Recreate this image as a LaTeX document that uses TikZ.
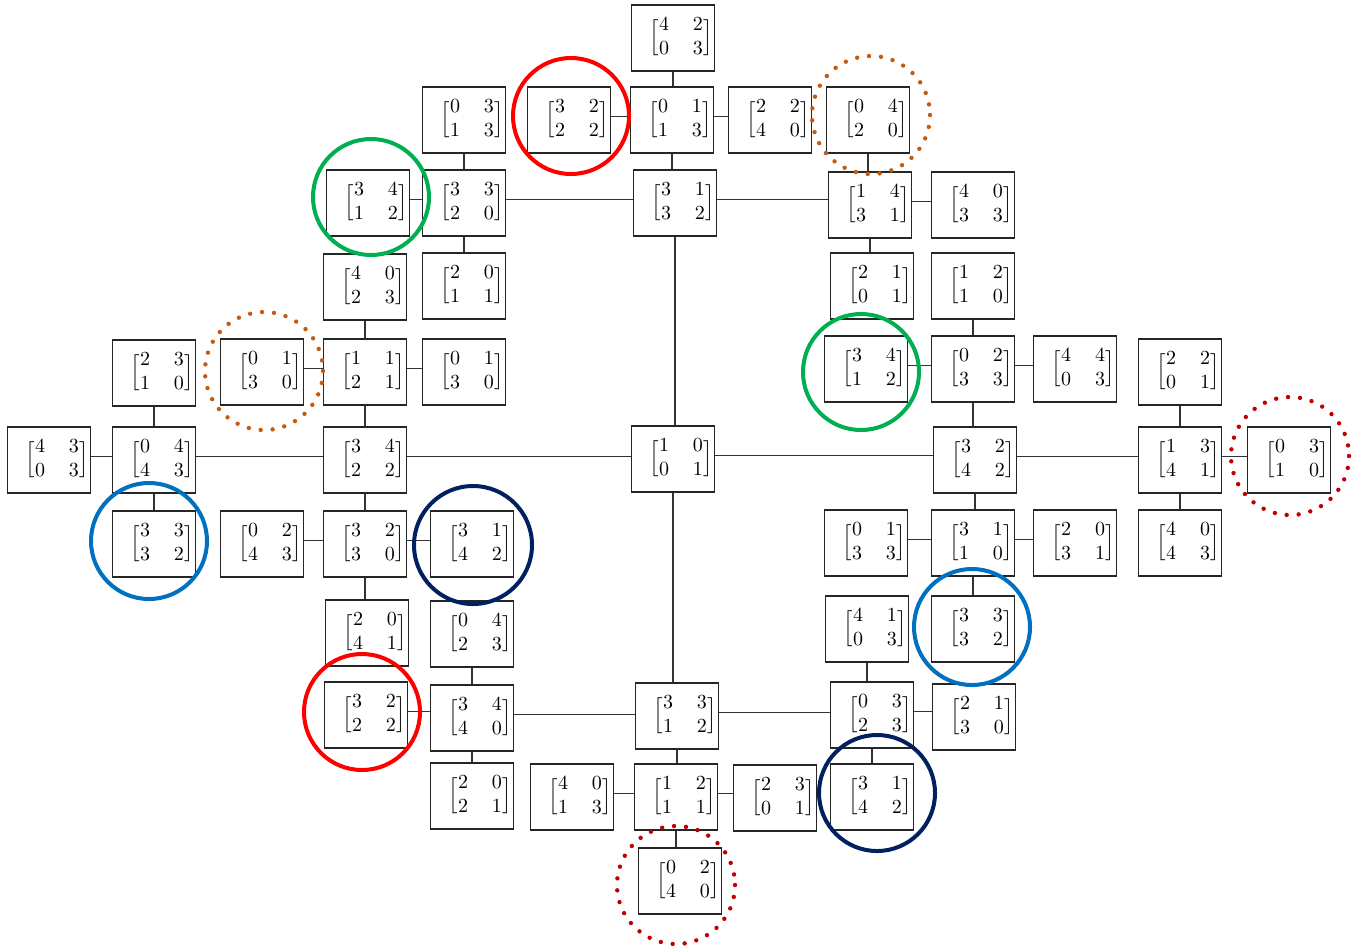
\documentclass[tikz,border=0pt]{standalone}
\newcommand\mx[4]{\hspace{8pt}$\Big[\begin{array}{@{}c@{\hspace{12pt}}c@{}}#1&#2\\#3&#4\end{array}\Big]$}
\definecolor{cred}{HTML}{FF0000}
\definecolor{cgreen}{HTML}{00B050}
\definecolor{cblue}{HTML}{0070C0}
\definecolor{cnavy}{HTML}{002060}
\definecolor{cbrown}{HTML}{C55A11}
\definecolor{cdred}{HTML}{C00000}
\tikzset{
  mat/.style={draw=black!85, line width=0.95pt, minimum width=41.5pt, minimum height=33pt, inner sep=0pt},
  conn/.style={draw=black!80, line width=0.9pt},
  ring/.style={line width=2pt},
  dotring/.style={line width=2.2pt, dash pattern=on 0pt off 6pt, line cap=round},
}
\begin{document}
\begin{tikzpicture}[x=0.5pt,y=-0.5pt]
\fill[white] (0,0) rectangle (1363,949);
\useasboundingbox (0,0) rectangle (1363,949);
% central column
\node[mat] (n1) at (673,38) {\mx4203};
\node[mat] (n2) at (672,120) {\mx0113};
\node[mat] (n3) at (675,203) {\mx3132};
\node[mat] (c)  at (673,459) {\mx1001};
\node[mat] (s3) at (677,716) {\mx3312};
\node[mat] (s2) at (676,797) {\mx1211};
\node[mat] (s1) at (680,881) {\mx0240};
% top row
\node[mat] (t1) at (464,120) {\mx0313};
\node[mat] (t2) at (569,120) {\mx3222};
\node[mat] (t3) at (770,120) {\mx2240};
\node[mat] (t4) at (868,120) {\mx0420};
% row 203
\node[mat] (u1) at (368,203) {\mx3412};
\node[mat] (u2) at (464,203) {\mx3320};
\node[mat] (u3) at (870,205) {\mx1431};
\node[mat] (u4) at (973,205) {\mx4033};
% row 286
\node[mat] (v1) at (365,287) {\mx4023};
\node[mat] (v2) at (464,286) {\mx2011};
\node[mat] (v3) at (872,286) {\mx2101};
\node[mat] (v4) at (973,286) {\mx1210};
% row 371
\node[mat] (w1) at (154,373) {\mx2310};
\node[mat] (w2) at (262,372) {\mx0130};
\node[mat] (w3) at (365,372) {\mx1121};
\node[mat] (w4) at (464,372) {\mx0130};
\node[mat] (w5) at (866,369) {\mx3412};
\node[mat] (w6) at (973,369) {\mx0233};
\node[mat] (w7) at (1075,369) {\mx4403};
\node[mat] (w8) at (1180,372) {\mx2201};
% row 460
\node[mat] (x1) at (49,460) {\mx4303};
\node[mat] (x2) at (154,460) {\mx0443};
\node[mat] (x3) at (365,460) {\mx3422};
\node[mat] (x4) at (975,460) {\mx3242};
\node[mat] (x5) at (1180,460) {\mx1341};
\node[mat] (x6) at (1289,460) {\mx0310};
% row 544
\node[mat] (y1) at (154,544) {\mx3332};
\node[mat] (y2) at (262,544) {\mx0243};
\node[mat] (y3) at (365,544) {\mx3230};
\node[mat] (y4) at (472,544) {\mx3142};
\node[mat] (y5) at (866,543) {\mx0133};
\node[mat] (y6) at (973,543) {\mx3110};
\node[mat] (y7) at (1075,543) {\mx2031};
\node[mat] (y8) at (1180,543) {\mx4043};
% row 630
\node[mat] (z1) at (367,633) {\mx2041};
\node[mat] (z2) at (472,634) {\mx0423};
\node[mat] (z3) at (867,629) {\mx4103};
\node[mat] (z4) at (973,629) {\mx3332};
% row 716
\node[mat] (a1) at (366,715) {\mx3222};
\node[mat] (a2) at (472,718) {\mx3440};
\node[mat] (a3) at (872,715) {\mx0323};
\node[mat] (a4) at (974,717) {\mx2130};
% row 797
\node[mat] (b1) at (472,796) {\mx2021};
\node[mat] (b2) at (572,797) {\mx4013};
\node[mat] (b3) at (775,798) {\mx2301};
\node[mat] (b4) at (872,797) {\mx3142};
% horizontal connectors (slightly above box centres, as in the original)
\foreach \a/\b in {t2/n2, n2/t3, u1/u2, u2/n3, n3/u3, u3/u4, w2/w3, w3/w4, x1/x2, x2/x3, x3/c, y2/y3, y3/y4, a1/a2, a2/s3, s3/a3, b2/s2, s2/b3, a3/a4, c/x4, w5/w6, w6/w7, x4/x5, x5/x6, y5/y6, y6/y7}
  \draw[conn] ([yshift=1.8pt]\a.east) -- ([yshift=1.8pt]\a.east -| \b.west);
% vertical connectors
\foreach \a/\b in {n1/n2, n2/n3, t1/u2, u2/v2, t4/u3, u3/v3, n3/c, v1/w3, w3/x3, w1/x2, x2/y1, x3/y3, y3/z1, z2/a2, a2/b1, c/s3, s3/s2, s2/s1, z3/a3, a3/b4, v4/w6, w6/x4, w8/x5, x5/y8, x4/y6, y6/z4}
  \draw[conn] (\a.south) -- (\a.south |- \b.north);
% highlight circles
\draw[ring, cred]   (571,116) circle (58);
\draw[ring, cred]   (362,712) circle (58);
\draw[ring, cgreen] (371,197) circle (58);
\draw[ring, cgreen] (861,372) circle (58);
\draw[ring, cblue]  (149,541) circle (58);
\draw[ring, cblue]  (972,627) circle (58);
\draw[ring, cnavy]  (473,545) circle (59);
\draw[ring, cnavy]  (877,793) circle (58);
\draw[dotring, cbrown] (871,115) circle (59);
\draw[dotring, cbrown] (264,371) circle (59);
\draw[dotring, cdred]  (1290,456) circle (59);
\draw[dotring, cdred]  (676,885) circle (59);
\end{tikzpicture}
\end{document}
